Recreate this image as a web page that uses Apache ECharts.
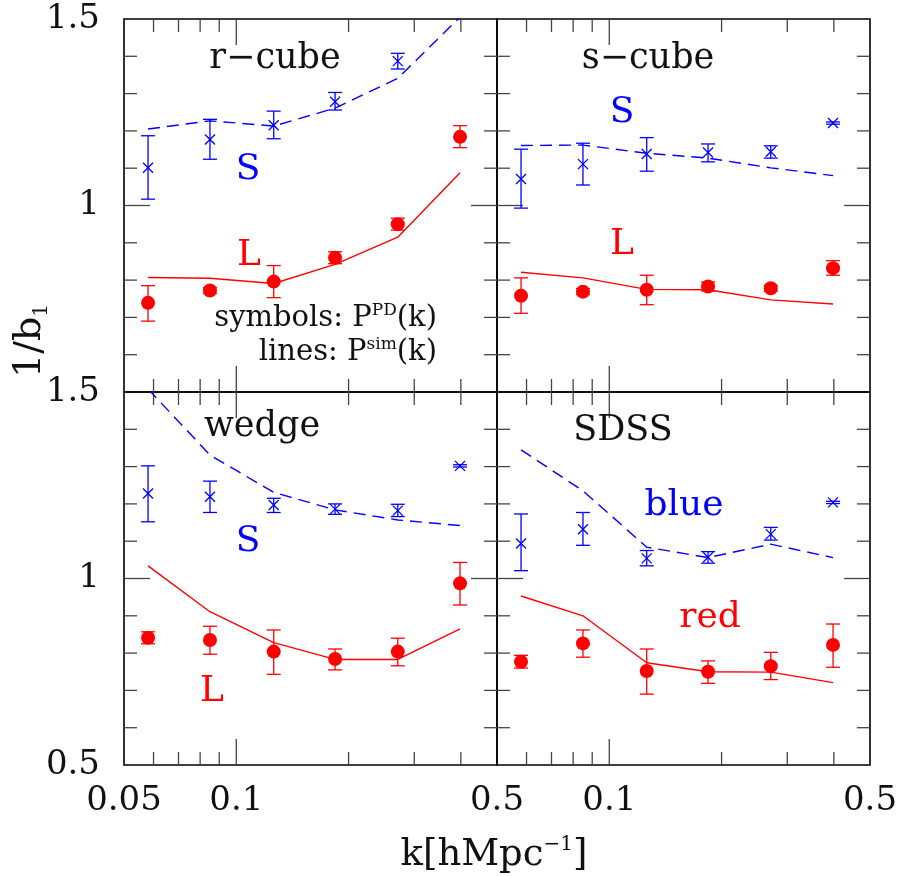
<!DOCTYPE html>
<html><head><meta charset="utf-8">
<script src="https://cdn.jsdelivr.net/npm/echarts@6/dist/echarts.min.js"></script>
<style>html,body{margin:0;padding:0;background:#fff}#c{width:901px;height:876px}</style>
</head><body><div id="c"></div>
<script>
// ---------- data ----------
const kValues = [0.058, 0.085, 0.126, 0.184, 0.271, 0.398];
const xMinorTicks = [0.06, 0.07, 0.08, 0.09, 0.2, 0.3, 0.4];
const xMajorTicks = [0.1];
const yMinorTicks = [0.6, 0.7, 0.8, 0.9, 1.1, 1.2, 1.3, 1.4];
const yMajorTicks = [1.0];
const panelTitles = ['r−cube', 's−cube', 'wedge', 'SDSS'];
const blueLabels = ['S', 'S', 'S', 'blue'];
const redLabels = ['L', 'L', 'L', 'red'];

// r-cube
const rcubeBluePts = [1.101, 1.177, 1.215, 1.278, 1.387, null];
const rcubeBlueLo  = [1.017, 1.124, 1.179, 1.256, 1.366, null];
const rcubeBlueHi  = [1.187, 1.231, 1.253, 1.303, 1.408, null];
const rcubeBlueSim = [1.205, 1.227, 1.213, 1.261, 1.341, 1.505];
const rcubeRedPts  = [0.739, 0.772, 0.796, 0.860, 0.950, 1.184];
const rcubeRedLo   = [0.690, 0.764, 0.753, 0.844, 0.934, 1.155];
const rcubeRedHi   = [0.785, 0.780, 0.839, 0.876, 0.966, 1.214];
const rcubeRedSim  = [0.807, 0.805, 0.791, 0.842, 0.915, 1.088];
// s-cube
const scubeBluePts = [1.071, 1.111, 1.138, 1.142, 1.144, 1.221];
const scubeBlueLo  = [0.993, 1.055, 1.092, 1.117, 1.127, 1.218];
const scubeBlueHi  = [1.151, 1.167, 1.182, 1.165, 1.160, 1.224];
const scubeBlueSim = [1.161, 1.162, 1.140, 1.127, 1.101, 1.080];
const scubeRedPts  = [0.758, 0.769, 0.774, 0.783, 0.778, 0.832];
const scubeRedLo   = [0.711, 0.761, 0.734, 0.771, 0.770, 0.813];
const scubeRedHi   = [0.806, 0.777, 0.813, 0.795, 0.786, 0.852];
const scubeRedSim  = [0.821, 0.806, 0.775, 0.774, 0.747, 0.736];
// wedge
const wedgeBluePts = [1.228, 1.219, 1.197, 1.186, 1.182, 1.302];
const wedgeBlueLo  = [1.152, 1.177, 1.177, 1.172, 1.166, 1.299];
const wedgeBlueHi  = [1.302, 1.261, 1.215, 1.200, 1.199, 1.305];
const wedgeBlueSim = [1.508, 1.331, 1.231, 1.184, 1.157, 1.142];
const wedgeRedPts  = [0.841, 0.835, 0.804, 0.784, 0.804, 0.987];
const wedgeRedLo   = [0.825, 0.797, 0.743, 0.755, 0.766, 0.929];
const wedgeRedHi   = [0.857, 0.872, 0.862, 0.811, 0.840, 1.043];
const wedgeRedSim  = [1.034, 0.911, 0.828, 0.783, 0.783, 0.865];
// SDSS
const sdssBluePts = [1.094, 1.132, 1.054, 1.057, 1.119, 1.204];
const sdssBlueLo  = [1.021, 1.089, 1.034, 1.041, 1.103, 1.201];
const sdssBlueHi  = [1.173, 1.177, 1.075, 1.072, 1.137, 1.207];
const sdssBlueSim = [1.345, 1.235, 1.084, 1.056, 1.092, 1.056];
const sdssRedPts  = [0.777, 0.826, 0.752, 0.750, 0.765, 0.822];
const sdssRedLo   = [0.760, 0.789, 0.690, 0.719, 0.729, 0.762];
const sdssRedHi   = [0.794, 0.862, 0.811, 0.779, 0.802, 0.878];
const sdssRedSim  = [0.953, 0.900, 0.774, 0.750, 0.749, 0.721];

// ---------- build ----------
const panels = [
  {bp: rcubeBluePts, bl: rcubeBlueLo, bh: rcubeBlueHi, bs: rcubeBlueSim, rp: rcubeRedPts, rl: rcubeRedLo, rh: rcubeRedHi, rs: rcubeRedSim},
  {bp: scubeBluePts, bl: scubeBlueLo, bh: scubeBlueHi, bs: scubeBlueSim, rp: scubeRedPts, rl: scubeRedLo, rh: scubeRedHi, rs: scubeRedSim},
  {bp: wedgeBluePts, bl: wedgeBlueLo, bh: wedgeBlueHi, bs: wedgeBlueSim, rp: wedgeRedPts, rl: wedgeRedLo, rh: wedgeRedHi, rs: wedgeRedSim},
  {bp: sdssBluePts, bl: sdssBlueLo, bh: sdssBlueHi, bs: sdssBlueSim, rp: sdssRedPts, rl: sdssRedLo, rh: sdssRedHi, rs: sdssRedSim}
];
const BLUE = '#0000ff', RED = '#ff0000';
const FONT = 'DejaVu Serif';
const YMIN = 0.5, YMAX = 1.5, XMIN = 0.05, XMAX = 0.5;
const gridPos = [[124, 19], [497, 19], [124, 392], [497, 392]];
const PW = 373, PH = 373;

function fmtK(v) { return String(Number(Number(v).toPrecision(3))); }

const grids = [], xAxes = [], yAxes = [], series = [];
const tickStyle = {stroke: '#444', lineWidth: 1.3};

gridPos.forEach((g, i) => {
  grids.push({left: g[0], top: g[1], width: PW, height: PH, show: true, borderColor: '#000', borderWidth: 1.6, backgroundColor: 'transparent'});
  xAxes.push({
    type: 'log', logBase: 10, gridIndex: i, min: XMIN, max: XMAX,
    axisLine: {show: false}, axisTick: {show: false}, splitLine: {show: false}, minorTick: {show: false},
    axisLabel: {
      show: i >= 2, margin: 19, color: '#111', fontFamily: FONT, fontSize: 34,
      formatter: v => (i === 3 && v < 0.06) ? '' : fmtK(v)
    }
  });
  yAxes.push({
    type: 'value', gridIndex: i, min: YMIN, max: YMAX, interval: 0.5,
    axisLine: {show: false}, axisTick: {show: false}, splitLine: {show: false},
    axisLabel: {
      show: i % 2 === 0, margin: 24, color: '#111', fontFamily: FONT, fontSize: 34,
      formatter: v => (i === 0 && v < 0.75) ? '' : String(v)
    }
  });

  // x ticks (bottom and top edges)
  series.push({
    type: 'custom', xAxisIndex: i, yAxisIndex: i, silent: true, z: 1,
    data: xMinorTicks.map(v => [v, YMIN, 0]).concat(xMajorTicks.map(v => [v, YMIN, 1])),
    encode: {x: 0, y: 1},
    renderItem: (params, api) => {
      const v = api.value(0), len = api.value(2) ? 26 : 13;
      const b = api.coord([v, YMIN]), t = api.coord([v, YMAX]);
      return {type: 'group', children: [
        {type: 'line', shape: {x1: b[0], y1: b[1], x2: b[0], y2: b[1] - len}, style: tickStyle},
        {type: 'line', shape: {x1: t[0], y1: t[1], x2: t[0], y2: t[1] + len}, style: tickStyle}
      ]};
    }
  });
  // y ticks (left and right edges)
  series.push({
    type: 'custom', xAxisIndex: i, yAxisIndex: i, silent: true, z: 1,
    data: yMinorTicks.map(v => [XMIN, v, 0]).concat(yMajorTicks.map(v => [XMIN, v, 1])),
    encode: {x: 0, y: 1},
    renderItem: (params, api) => {
      const v = api.value(1), len = api.value(2) ? 26 : 13;
      const l = api.coord([XMIN, v]), r = api.coord([XMAX, v]);
      return {type: 'group', children: [
        {type: 'line', shape: {x1: l[0], y1: l[1], x2: l[0] + len, y2: l[1]}, style: tickStyle},
        {type: 'line', shape: {x1: r[0], y1: r[1], x2: r[0] - len, y2: r[1]}, style: tickStyle}
      ]};
    }
  });

  const P = panels[i];
  // simulation lines
  series.push({
    type: 'line', xAxisIndex: i, yAxisIndex: i, showSymbol: false, symbol: 'none', clip: true, z: 2,
    data: kValues.map((k, j) => [k, P.bs[j]]),
    lineStyle: {color: BLUE, width: 1.4, type: [12, 7]}
  });
  series.push({
    type: 'line', xAxisIndex: i, yAxisIndex: i, showSymbol: false, symbol: 'none', clip: true, z: 2,
    data: kValues.map((k, j) => [k, P.rs[j]]),
    lineStyle: {color: RED, width: 1.4, type: 'solid'}
  });

  // measured points with error bars
  const mkErr = (pts, lo, hi) => kValues.map((k, j) => pts[j] == null ? null : [k, pts[j], lo[j], hi[j]]).filter(d => d);
  const errRender = (color, marker) => (params, api) => {
    const k = api.value(0), v = api.value(1), lo = api.value(2), hi = api.value(3);
    const p = api.coord([k, v]), a = api.coord([k, hi]), b = api.coord([k, lo]);
    const st = {stroke: color, lineWidth: 1.3};
    const ch = [
      {type: 'line', shape: {x1: a[0], y1: a[1], x2: b[0], y2: b[1]}, style: st},
      {type: 'line', shape: {x1: a[0] - 7, y1: a[1], x2: a[0] + 7, y2: a[1]}, style: st},
      {type: 'line', shape: {x1: b[0] - 7, y1: b[1], x2: b[0] + 7, y2: b[1]}, style: st}
    ];
    if (marker === 'x') {
      ch.push({type: 'line', shape: {x1: p[0] - 5, y1: p[1] - 5, x2: p[0] + 5, y2: p[1] + 5}, style: st});
      ch.push({type: 'line', shape: {x1: p[0] - 5, y1: p[1] + 5, x2: p[0] + 5, y2: p[1] - 5}, style: st});
    } else {
      ch.push({type: 'circle', shape: {cx: p[0], cy: p[1], r: 7}, style: {fill: color}});
    }
    return {type: 'group', children: ch};
  };
  series.push({
    type: 'custom', xAxisIndex: i, yAxisIndex: i, z: 3,
    data: mkErr(P.bp, P.bl, P.bh), encode: {x: 0, y: 1},
    renderItem: errRender(BLUE, 'x')
  });
  series.push({
    type: 'custom', xAxisIndex: i, yAxisIndex: i, z: 3,
    data: mkErr(P.rp, P.rl, P.rh), encode: {x: 0, y: 1},
    renderItem: errRender(RED, 'o')
  });
});

// ---------- annotations ----------
const txt = (text, x, y, size, color, align, extra) => Object.assign({
  type: 'text', x: x, y: y, z: 10,
  style: {text: text, fontFamily: FONT, fontSize: size, fill: color, align: align || 'center', verticalAlign: 'middle'}
}, extra || {});
const titlePos = [[275, 59], [648, 59], [262, 427], [623, 431]];
const bluePos = [[248, 170], [622, 113], [248, 542], [684, 506]];
const redPos = [[249, 256], [622, 245], [212, 692], [710, 618]];
const graphics = [];
panelTitles.forEach((t, i) => graphics.push(txt(t, titlePos[i][0], titlePos[i][1], 35, '#111')));
blueLabels.forEach((t, i) => graphics.push(txt(t, bluePos[i][0], bluePos[i][1], 36, BLUE)));
redLabels.forEach((t, i) => graphics.push(txt(t, redPos[i][0], redPos[i][1], 36, RED)));

const supRich = {sup: {fontFamily: FONT, fontSize: 17, lineHeight: 17, verticalAlign: 'top', fill: '#111'}};
graphics.push({type: 'text', x: 437, y: 318, z: 10, style: {
  text: 'symbols: P{sup|PD}(k)', fontFamily: FONT, fontSize: 29, lineHeight: 32, fill: '#111', align: 'right', verticalAlign: 'middle', rich: supRich}});
graphics.push({type: 'text', x: 437, y: 352, z: 10, style: {
  text: 'lines: P{sup|sim}(k)', fontFamily: FONT, fontSize: 29, lineHeight: 32, fill: '#111', align: 'right', verticalAlign: 'middle', rich: supRich}});

// axis titles
graphics.push({type: 'text', x: 494, y: 855, z: 10, style: {
  text: 'k[hMpc{sup|−1}]', fontFamily: FONT, fontSize: 37, lineHeight: 40, fill: '#111', align: 'center', verticalAlign: 'middle',
  rich: {sup: {fontFamily: FONT, fontSize: 20, lineHeight: 20, verticalAlign: 'top', fill: '#111'}}}});
graphics.push({type: 'text', x: 30, y: 341, rotation: Math.PI / 2, z: 10, style: {
  text: '1/b{sub|1}', fontFamily: FONT, fontSize: 38, lineHeight: 44, fill: '#111', align: 'center', verticalAlign: 'middle',
  rich: {sub: {fontFamily: FONT, fontSize: 20, lineHeight: 20, verticalAlign: 'bottom', fill: '#111'}}}});

const chart = echarts.init(document.getElementById('c'), null, {renderer: 'canvas'});
chart.setOption({
  animation: false,
  backgroundColor: '#fff',
  grid: grids, xAxis: xAxes, yAxis: yAxes, series: series,
  graphic: graphics
});
</script></body></html>
